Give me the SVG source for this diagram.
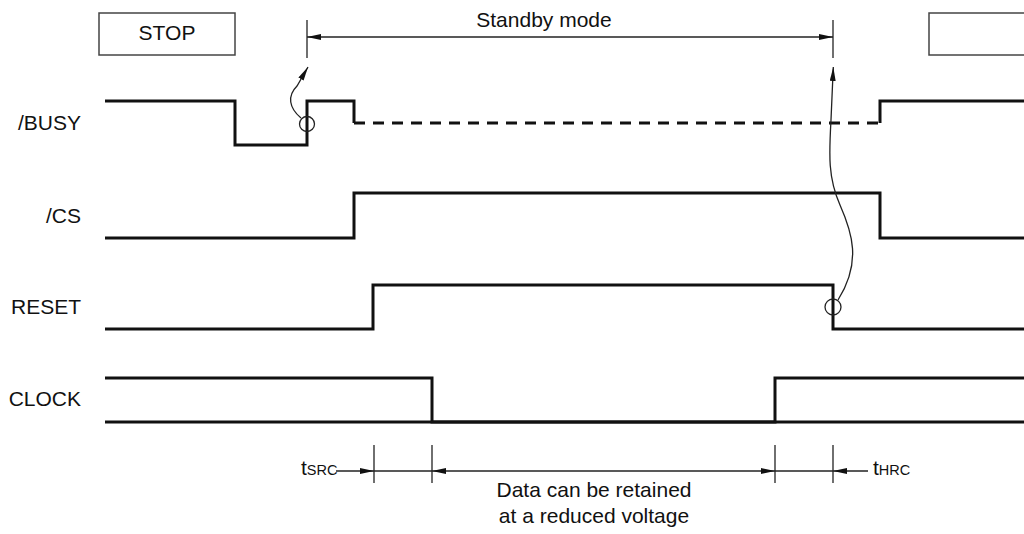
<svg xmlns="http://www.w3.org/2000/svg" width="1024" height="534" viewBox="0 0 1024 534">
<style>
text{font-family:"Liberation Sans",Arial,sans-serif;font-size:21px;fill:#111}
.lbl{text-anchor:end}
.sig{fill:none;stroke:#111;stroke-width:3;stroke-linejoin:miter;stroke-linecap:butt}
.dash{fill:none;stroke:#111;stroke-width:3;stroke-dasharray:11 8}
.thin{fill:none;stroke:#222;stroke-width:1.3}
.box{fill:none;stroke:#444;stroke-width:1.5}
.sub{font-size:14.5px}
</style>
<defs>
<marker id="ah" markerUnits="userSpaceOnUse" markerWidth="14" markerHeight="6" refX="14" refY="3" orient="auto-start-reverse" viewBox="0 0 14 6">
<path d="M0,0 L14,3 L0,6 z" fill="#111"/>
</marker>
</defs>

<g id="stop-box">
<rect class="box" x="99" y="13" width="136" height="42"/>
<text x="167" y="40" text-anchor="middle">STOP</text>
</g>
<g id="right-box">
<rect class="box" x="929" y="13" width="110" height="42"/>
</g>
<g id="standby">
<text x="544" y="27" text-anchor="middle">Standby mode</text>
</g>

<g id="busy">
<text class="lbl" x="81" y="130">/BUSY</text>
<path class="sig" d="M105,101 H235 V145 H307 V101 H354 V123"/>
<path class="dash" d="M354,123 H880"/>
<path class="sig" d="M880,123 V101 H1024"/>
</g>
<g id="cs">
<text class="lbl" x="81" y="223">/CS</text>
<path class="sig" d="M105,238 H354 V193 H880 V238 H1024"/>
</g>
<g id="reset">
<text class="lbl" x="81" y="314">RESET</text>
<path class="sig" d="M105,329 H373 V285 H833 V329 H1024"/>
</g>
<g id="clock">
<text class="lbl" x="81" y="406">CLOCK</text>
<path class="sig" d="M105,378 H432 V422 H775 V378 H1024"/>
<path class="sig" d="M105,422 H1024"/>
</g>

<g id="notes">
<text x="301" y="475">t<tspan class="sub">SRC</tspan></text>
<text x="873" y="475">t<tspan class="sub">HRC</tspan></text>
<text x="594" y="497" text-anchor="middle">Data can be retained</text>
<text x="594" y="523" text-anchor="middle">at a reduced voltage</text>
</g>

<g id="connectors">
<line class="thin" x1="307" y1="20" x2="307" y2="58"/>
<line class="thin" x1="833" y1="20" x2="833" y2="58"/>
<line class="thin" x1="307" y1="37" x2="833" y2="37" marker-start="url(#ah)" marker-end="url(#ah)"/>
<circle class="thin" cx="307" cy="124" r="7.5"/>
<path class="thin" d="M301,118 C289,108 287,96 297,86 L308,67" marker-end="url(#ah)"/>
<circle class="thin" cx="833" cy="307" r="8"/>
<path class="thin" d="M838,300 C862,262 852,232 840,205 C828,178 829,155 831,120 L833.3,67" marker-end="url(#ah)"/>
<line class="thin" x1="374" y1="445" x2="374" y2="483"/>
<line class="thin" x1="432" y1="445" x2="432" y2="483"/>
<line class="thin" x1="775" y1="445" x2="775" y2="483"/>
<line class="thin" x1="833" y1="445" x2="833" y2="483"/>
<line class="thin" x1="336" y1="471" x2="374" y2="471" marker-end="url(#ah)"/>
<line class="thin" x1="374" y1="471" x2="432" y2="471"/>
<line class="thin" x1="432" y1="471" x2="775" y2="471" marker-start="url(#ah)" marker-end="url(#ah)"/>
<line class="thin" x1="775" y1="471" x2="833" y2="471"/>
<line class="thin" x1="868" y1="471" x2="833" y2="471" marker-end="url(#ah)"/>
</g>
</svg>
